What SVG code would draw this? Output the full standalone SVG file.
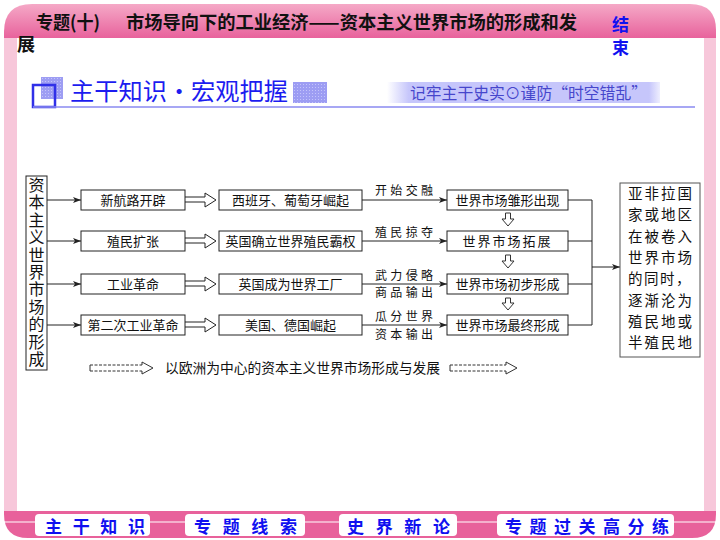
<svg xmlns="http://www.w3.org/2000/svg" width="720" height="540" viewBox="0 0 720 540">
<defs>
<style>
.t{font-family:"Noto Sans CJK SC","Liberation Sans",sans-serif;}
.box{fill:#fff;stroke:#222;stroke-width:1;}
.bx{font-family:"Noto Sans CJK SC",sans-serif;font-size:13px;fill:#111;text-anchor:middle;}
.lb{font-family:"Noto Sans CJK SC",sans-serif;font-size:12px;fill:#111;}
.ln{stroke:#222;stroke-width:1;fill:none;}
.btn{fill:#fff;}
.bt{font-family:"Noto Sans CJK SC",sans-serif;font-size:17px;font-weight:700;fill:#1010f0;}
</style>
<linearGradient id="topg" x1="0" y1="0" x2="0" y2="1">
<stop offset="0" stop-color="#f5a9c7"/>
<stop offset="1" stop-color="#e8629c"/>
</linearGradient>
<linearGradient id="subg" x1="0" y1="0" x2="1" y2="0">
<stop offset="0" stop-color="#c6c6fb" stop-opacity="0"/>
<stop offset="0.08" stop-color="#c6c6fb" stop-opacity="1"/>
<stop offset="0.96" stop-color="#c6c6fb" stop-opacity="1"/>
<stop offset="1" stop-color="#c6c6fb" stop-opacity="0.3"/>
</linearGradient>
<pattern id="dots" width="3" height="3" patternUnits="userSpaceOnUse"><rect width="3" height="3" fill="#9d9df3"/><rect width="1" height="1" fill="#c4c4fb"/></pattern>
<marker id="ah" markerWidth="8" markerHeight="6" refX="8" refY="3" orient="auto" markerUnits="userSpaceOnUse"><path d="M0,0 L8,3 L0,6 L2,3 Z" fill="#222"/></marker>
</defs>

<g id="frame">
<rect x="0" y="0" width="720" height="540" fill="#fff"/>
<rect x="4" y="30" width="13" height="485" fill="#f7c7da"/>
<rect x="704" y="30" width="12" height="485" fill="#f7c7da"/>
<path d="M4,38 V32 Q4,4 32,4 H690 Q716,4 716,30 V38 Z" fill="url(#topg)"/>
<path d="M4,511 H716 V514 Q716,538 692,538 H28 Q4,538 4,514 Z" fill="#e8619b"/>
<line x1="4" y1="522" x2="716" y2="522" stroke="#fff" stroke-width="1.2"/>
</g>

<g id="header">
<text class="t" x="36" y="29" font-size="18" font-weight="700" fill="#111" textLength="64" lengthAdjust="spacingAndGlyphs">专题(十)</text>
<text class="t" x="126" y="29" font-size="18" font-weight="700" fill="#111" textLength="451" lengthAdjust="spacingAndGlyphs">市场导向下的工业经济——资本主义世界市场的形成和发</text>
<text class="t" x="17" y="51" font-size="18" font-weight="700" fill="#111">展</text>
<text class="t" x="612" y="31" font-size="17" font-weight="700" fill="#1010f0">结</text>
<text class="t" x="612" y="54" font-size="17" font-weight="700" fill="#1010f0">束</text>
</g>

<g id="banner">
<rect x="41" y="77" width="22" height="22" fill="url(#dots)"/>
<rect x="33" y="85" width="22" height="22" fill="none" stroke="#3030e8" stroke-width="2.5"/>
<text class="t" x="70" y="100" font-size="24" fill="#1c1cf0" textLength="218" lengthAdjust="spacingAndGlyphs">主干知识·宏观把握</text>
<rect x="293" y="82" width="34" height="21" fill="url(#dots)"/>
<rect x="387" y="82" width="273" height="21" fill="url(#subg)"/>
<text class="t" x="410" y="99" font-size="16" fill="#4646cc" textLength="237" lengthAdjust="spacingAndGlyphs">记牢主干史实⊙谨防“时空错乱”</text>
<line x1="33" y1="107" x2="695" y2="107" stroke="#8a8af0" stroke-width="1.5"/>
</g>

<g id="connectors">
<line class="ln" x1="47" y1="200" x2="81" y2="200" marker-end="url(#ah)"/>
<line class="ln" x1="47" y1="241" x2="81" y2="241" marker-end="url(#ah)"/>
<line class="ln" x1="47" y1="284" x2="81" y2="284" marker-end="url(#ah)"/>
<line class="ln" x1="47" y1="325" x2="81" y2="325" marker-end="url(#ah)"/>
<path class="ln" d="M185,197 H205 V193 L216,200 L205,207 V202 H185"/>
<path class="ln" d="M185,238 H205 V234 L216,241 L205,248 V243 H185"/>
<path class="ln" d="M185,281 H205 V277 L216,284 L205,291 V286 H185"/>
<path class="ln" d="M185,322 H205 V318 L216,325 L205,332 V327 H185"/>
<line class="ln" x1="362" y1="200" x2="447" y2="200" marker-end="url(#ah)"/>
<line class="ln" x1="362" y1="241" x2="447" y2="241" marker-end="url(#ah)"/>
<line class="ln" x1="362" y1="284" x2="447" y2="284" marker-end="url(#ah)"/>
<line class="ln" x1="362" y1="325" x2="447" y2="325" marker-end="url(#ah)"/>
<text class="lb" x="375" y="195" textLength="58" lengthAdjust="spacing">开始交融</text>
<text class="lb" x="375" y="237" textLength="58" lengthAdjust="spacing">殖民掠夺</text>
<text class="lb" x="375" y="280" textLength="58" lengthAdjust="spacing">武力侵略</text>
<text class="lb" x="375" y="297" textLength="58" lengthAdjust="spacing">商品输出</text>
<text class="lb" x="375" y="321" textLength="58" lengthAdjust="spacing">瓜分世界</text>
<text class="lb" x="375" y="339" textLength="58" lengthAdjust="spacing">资本输出</text>
<path d="M505.5,213 H510.5 V219 H514 L508,226 L502,219 H505.5 Z" fill="#fff" stroke="#333" stroke-width="1"/>
<path d="M505.5,255 H510.5 V261 H514 L508,268 L502,261 H505.5 Z" fill="#fff" stroke="#333" stroke-width="1"/>
<path d="M505.5,298 H510.5 V303 H514 L508,310 L502,303 H505.5 Z" fill="#fff" stroke="#333" stroke-width="1"/>
<path class="ln" d="M568,200 H592 M568,241 H592 M568,284 H592 M568,325 H592 M592,200 V325"/>
<line class="ln" x1="592" y1="267" x2="620" y2="267" marker-end="url(#ah)"/>
<g stroke="#333" stroke-width="1" fill="none">
<path d="M90,365 V371" />
<path d="M90,365 H142 M90,371 H142" stroke-dasharray="3,1.5"/>
<path d="M142,365 V362 L153,368 L142,374 V371"/>
<path d="M450,365 V371" />
<path d="M450,365 H506 M450,371 H506" stroke-dasharray="3,1.5"/>
<path d="M506,365 V362 L517,368 L506,374 V371"/>
</g>
<text class="t" x="165" y="373" font-size="14" fill="#111" textLength="275" lengthAdjust="spacingAndGlyphs">以欧洲为中心的资本主义世界市场形成与发展</text>
</g>

<g id="n-left">
<rect class="box" x="26" y="176" width="21" height="194"/>
<text class="t" x="36.5" y="177" font-size="16" fill="#111" writing-mode="vertical-rl" letter-spacing="1.4">资本主义世界市场的形成</text>
</g>

<g id="n-c1r1"><rect class="box" x="81" y="190" width="104" height="20"/><text class="bx" x="133" y="205">新航路开辟</text></g>
<g id="n-c1r2"><rect class="box" x="81" y="231" width="104" height="20"/><text class="bx" x="133" y="246">殖民扩张</text></g>
<g id="n-c1r3"><rect class="box" x="81" y="274" width="104" height="20"/><text class="bx" x="133" y="289">工业革命</text></g>
<g id="n-c1r4"><rect class="box" x="81" y="315" width="104" height="20"/><text class="bx" x="133" y="330">第二次工业革命</text></g>

<g id="n-c2r1"><rect class="box" x="219" y="190" width="143" height="20"/><text class="bx" x="290.5" y="205">西班牙、葡萄牙崛起</text></g>
<g id="n-c2r2"><rect class="box" x="219" y="231" width="143" height="20"/><text class="bx" x="290.5" y="246">英国确立世界殖民霸权</text></g>
<g id="n-c2r3"><rect class="box" x="219" y="274" width="143" height="20"/><text class="bx" x="290.5" y="289">英国成为世界工厂</text></g>
<g id="n-c2r4"><rect class="box" x="219" y="315" width="143" height="20"/><text class="bx" x="290.5" y="330">美国、德国崛起</text></g>

<g id="n-c3r1"><rect class="box" x="447" y="190" width="121" height="20"/><text class="bx" x="507.5" y="205">世界市场雏形出现</text></g>
<g id="n-c3r2"><rect class="box" x="447" y="231" width="121" height="20"/><text class="bx" x="507.5" y="246" letter-spacing="2">世界市场拓展</text></g>
<g id="n-c3r3"><rect class="box" x="447" y="274" width="121" height="20"/><text class="bx" x="507.5" y="289">世界市场初步形成</text></g>
<g id="n-c3r4"><rect class="box" x="447" y="315" width="121" height="20"/><text class="bx" x="507.5" y="330">世界市场最终形成</text></g>

<g id="n-right">
<rect x="620" y="183" width="80" height="174" fill="#fff" stroke="#555" stroke-width="1"/>
<g class="t" font-size="14.5" fill="#111">
<text x="628" y="199" textLength="64" lengthAdjust="spacing">亚非拉国</text>
<text x="628" y="220.3" textLength="64" lengthAdjust="spacing">家或地区</text>
<text x="628" y="241.6" textLength="64" lengthAdjust="spacing">在被卷入</text>
<text x="628" y="262.9" textLength="64" lengthAdjust="spacing">世界市场</text>
<text x="628" y="284.2" letter-spacing="1.5">的同时，</text>
<text x="628" y="305.5" textLength="64" lengthAdjust="spacing">逐渐沦为</text>
<text x="628" y="326.8" textLength="64" lengthAdjust="spacing">殖民地或</text>
<text x="628" y="348.1" textLength="64" lengthAdjust="spacing">半殖民地</text>
</g>
</g>

<g id="nav">
<rect class="btn" x="35" y="514" width="115" height="22" rx="4"/>
<text class="bt" x="45" y="533" textLength="100" lengthAdjust="spacing">主干知识</text>
<rect class="btn" x="185" y="514" width="120" height="22" rx="4"/>
<text class="bt" x="194" y="533" textLength="103" lengthAdjust="spacing">专题线索</text>
<rect class="btn" x="339" y="514" width="118" height="22" rx="4"/>
<text class="bt" x="347" y="533" textLength="103" lengthAdjust="spacing">史界新论</text>
<rect class="btn" x="497" y="514" width="177" height="22" rx="4"/>
<text class="bt" x="505" y="533" textLength="164" lengthAdjust="spacing">专题过关高分练</text>
</g>
</svg>
